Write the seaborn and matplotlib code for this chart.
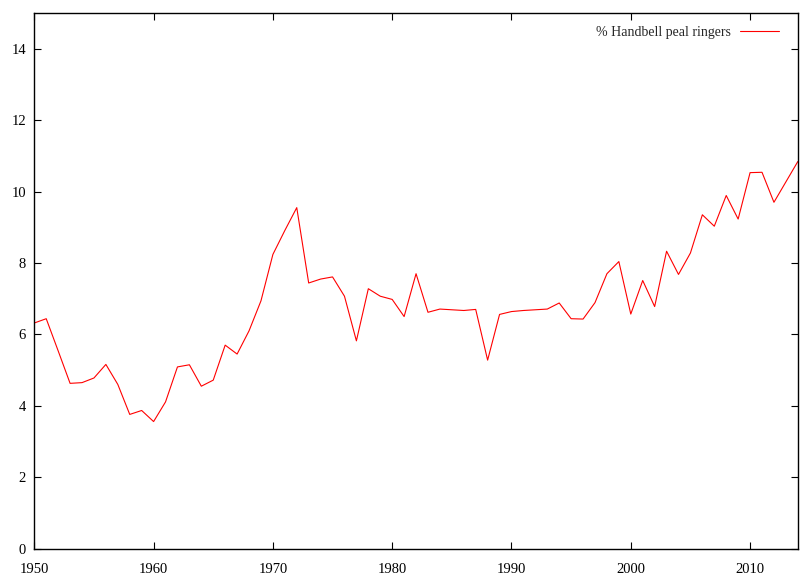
import seaborn as sns
import pandas as pd
import matplotlib.pyplot as plt

# percentage of handbell peal ringers, by year
years = list(range(1950, 2015))
pct_handbell = [6.32, 6.44, 5.54, 4.63, 4.65, 4.78, 5.16, 4.60, 3.76, 3.87,
                3.56, 4.11, 5.09, 5.15, 4.55, 4.72, 5.70, 5.45, 6.10, 6.94,
                8.24, 8.91, 9.55, 7.44, 7.55, 7.61, 7.07, 5.82, 7.28, 7.07,
                6.98, 6.50, 7.70, 6.62, 6.71, 6.69, 6.67, 6.70, 5.28, 6.56,
                6.64, 6.67, 6.69, 6.71, 6.88, 6.44, 6.43, 6.89, 7.70, 8.04,
                6.57, 7.51, 6.78, 8.33, 7.68, 8.28, 9.35, 9.03, 9.89, 9.23,
                10.53, 10.54, 9.70, 10.27, 10.84]
df = pd.DataFrame({'year': years, 'pct': pct_handbell})

sns.set_style('ticks')
plt.rcParams['font.family'] = ['Liberation Serif', 'DejaVu Serif']
plt.rcParams['font.size'] = 10.5

fig = plt.figure(figsize=(8.09, 5.78), dpi=100)
ax = fig.add_axes([34.3 / 809, 1 - 548.7 / 578, (797.8 - 34.3) / 809, (548.7 - 13) / 578])

sns.lineplot(data=df, x='year', y='pct', color='#ff0000', linewidth=0.8,
             label='% Handbell peal ringers', ax=ax)

ax.set_xlim(1950, 2014)
ax.set_ylim(0, 15)
ax.set_xticks(range(1950, 2011, 10))
ax.set_yticks(range(0, 15, 2))
ax.set_xlabel('')
ax.set_ylabel('')
ax.tick_params(direction='in', length=5, width=0.8, top=True, right=True,
               labelsize=10.5, colors='black')
ax.tick_params(axis='x', pad=10)
ax.tick_params(axis='y', pad=6)
for s in ax.spines.values():
    s.set_linewidth(1.0)
    s.set_color('black')

leg = ax.legend(loc='upper right', bbox_to_anchor=(0.992, 0.999), frameon=False,
                markerfirst=False, handlelength=2.85, handletextpad=0.6,
                borderaxespad=0.5, fontsize=10)

plt.savefig('out.png', dpi=100)
